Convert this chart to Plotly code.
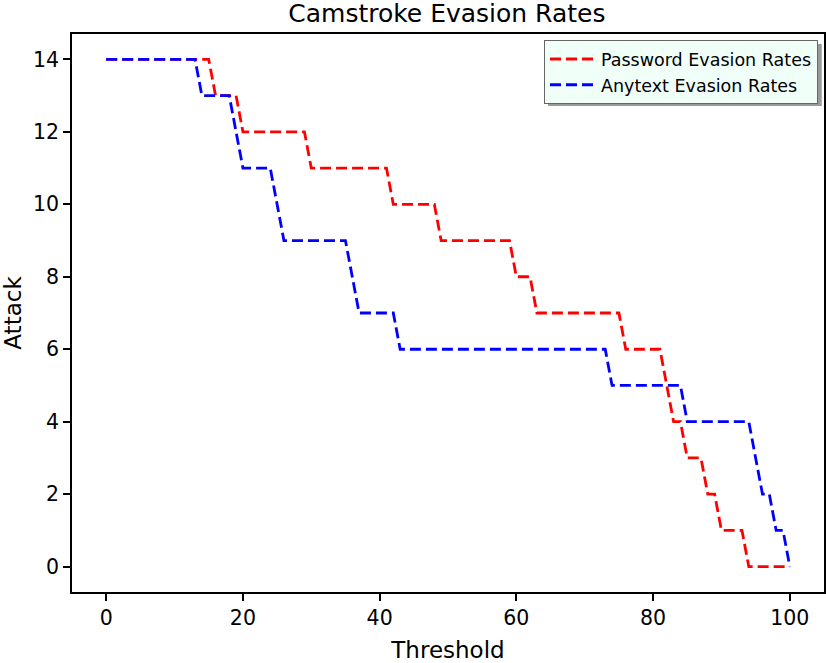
import plotly.graph_objects as go

# Corner points (threshold, attack count)
password_threshold = [0, 15, 16, 19, 20, 29, 30, 41, 42, 48, 49, 59, 60, 62, 63, 75, 76,
                      81, 82, 83, 84, 85, 87, 88, 89, 90, 93, 94, 100]
password_attack = [14, 14, 13, 13, 12, 12, 11, 11, 10, 10, 9, 9, 8, 8, 7, 7, 6,
                   6, 5, 4, 4, 3, 3, 2, 2, 1, 1, 0, 0]

anytext_threshold = [0, 13, 14, 18, 19, 20, 24, 25, 26, 35, 36, 37, 42, 43, 73, 74,
                     84, 85, 94, 95, 96, 97, 98, 99, 100]
anytext_attack = [14, 14, 13, 13, 12, 11, 11, 10, 9, 9, 8, 7, 7, 6, 6, 5,
                  5, 4, 4, 3, 2, 2, 1, 1, 0]

x_ticks = [0, 20, 40, 60, 80, 100]
y_ticks = [0, 2, 4, 6, 8, 10, 12, 14]

font = "DejaVu Sans"

fig = go.Figure()

fig.add_trace(go.Scatter(x=password_threshold, y=password_attack, mode='lines',
                         name='Password Evasion Rates',
                         line=dict(color='#ff0000', width=2.8, dash='11px,5px')))
fig.add_trace(go.Scatter(x=anytext_threshold, y=anytext_attack, mode='lines',
                         name='Anytext Evasion Rates',
                         line=dict(color='#0000ff', width=2.8, dash='11px,5px')))

# legend shadow (matplotlib shadow=True look)
fig.add_shape(type='rect', xref='paper', yref='paper',
              x0=0.633, x1=0.997, y0=0.871, y1=0.982,
              fillcolor='#9a9a9a', line=dict(width=0), layer='above')

axis_common = dict(showgrid=False, zeroline=False, showline=True, linecolor='black',
                   linewidth=1.5, mirror=True, ticks='outside', ticklen=7, tickwidth=1.5,
                   tickcolor='black', automargin=False,
                   tickfont=dict(family=font, size=20.5, color='black'))

fig.update_xaxes(range=[-5, 105], tickvals=x_ticks,
                 title=dict(text='Threshold', font=dict(family=font, size=23, color='black'),
                            standoff=16),
                 **axis_common)
fig.update_yaxes(range=[-0.7, 14.7], tickvals=y_ticks,
                 title=dict(text='Attack', font=dict(family=font, size=23, color='black'),
                            standoff=10),
                 **axis_common)

fig.update_layout(
    width=826, height=663,
    margin=dict(l=72, r=2, t=34, b=71),
    paper_bgcolor='white', plot_bgcolor='white',
    title=dict(text='Camstroke Evasion Rates', x=0.541, xanchor='center',
               y=0.98, yanchor='middle', font=dict(family=font, size=25, color='black')),
    legend=dict(x=0.992, y=0.989, xanchor='right', yanchor='top',
                bgcolor='#f0fff8', bordercolor='#666666', borderwidth=1,
                font=dict(family=font, size=17.5, color='black'),
                tracegroupgap=0, itemwidth=46),
    showlegend=True,
)

fig.write_html("out.html", config={'displayModeBar': False},
               post_script="document.body.style.margin='0';")
